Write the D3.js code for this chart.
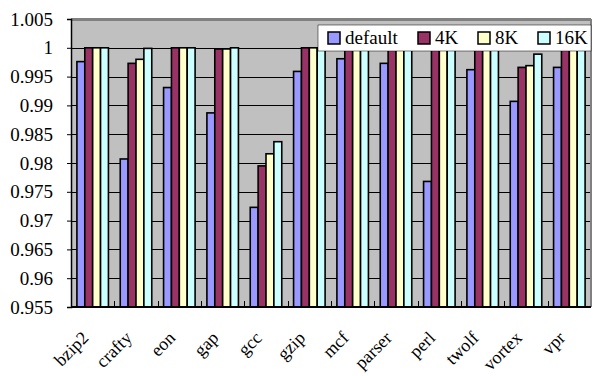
<!DOCTYPE html>
<html>
<head>
<meta charset="utf-8">
<script src="https://cdn.jsdelivr.net/npm/d3@7"></script>
<style>
  body { margin: 0; background: #fff; }
</style>
</head>
<body>
<div id="chart"></div>
<script>
// benchmarks along the x axis
const benchmarks = ["bzip2", "crafty", "eon", "gap", "gcc", "gzip", "mcf", "parser", "perl", "twolf", "vortex", "vpr"];
const seriesNames = ["default", "4K", "8K", "16K"];

// values
const defaultVals = [0.9976, 0.9807, 0.9931, 0.9887, 0.9723, 0.9959, 0.9981, 0.9973, 0.9768, 0.9962, 0.9907, 0.9966];
const k4Vals      = [1.0, 0.9973, 1.0, 0.9998, 0.9795, 1.0, 1.0, 1.0, 1.0, 1.0, 0.9966, 1.0];
const k8Vals      = [1.0, 0.9980, 1.0, 0.9998, 0.9816, 1.0, 1.0, 1.0, 1.0, 1.0, 0.9969, 1.0];
const k16Vals     = [1.0, 0.9999, 1.0, 1.0, 0.9837, 1.0, 1.0, 1.0, 1.0, 1.0, 0.9989, 1.0];

const yTicks = [0.955, 0.96, 0.965, 0.97, 0.975, 0.98, 0.985, 0.99, 0.995, 1, 1.005];

const colors = ["#9999ff", "#993366", "#ffffcc", "#ccffff"];
const FONT = "Liberation Serif";

const allSeries = [defaultVals, k4Vals, k8Vals, k16Vals];
const data = benchmarks.map((b, i) => ({
    name: b,
    values: seriesNames.map((s, j) => ({ key: s, value: allSeries[j][i] }))
}));

const W = 594, H = 376;
const margin = {top: 19, right: 3, bottom: 69, left: 71};
const width = W - margin.left - margin.right;
const height = H - margin.top - margin.bottom;

const svg = d3.select("#chart").append("svg")
    .attr("width", W)
    .attr("height", H);

const g = svg.append("g")
    .attr("transform", "translate(" + margin.left + "," + margin.top + ")");

// scales
const x0 = d3.scaleBand()
    .domain(benchmarks)
    .range([0, width]);

// excel style gap width 150%: group = 4 bars + 1.5 bar
const barW = x0.bandwidth() / 5.5;
const x1 = d3.scaleBand()
    .domain(seriesNames)
    .range([barW * 0.75, barW * 4.75]);

const y = d3.scaleLinear()
    .domain([0.955, 1.005])
    .range([height, 0]);

// plot background
g.append("rect")
    .attr("width", width)
    .attr("height", height)
    .attr("fill", "#c0c0c0");

// gridlines
g.selectAll(".grid")
    .data(yTicks)
    .enter().append("line")
    .attr("class", "grid")
    .attr("x1", 0)
    .attr("x2", width)
    .attr("y1", d => Math.round(y(d)) + 0.5)
    .attr("y2", d => Math.round(y(d)) + 0.5)
    .attr("stroke", "#000")
    .attr("stroke-width", 1);

// top & right border of plot area
g.append("line")
    .attr("x1", 0).attr("x2", width)
    .attr("y1", 0.5).attr("y2", 0.5)
    .attr("stroke", "#808080").attr("stroke-width", 3);
g.append("line")
    .attr("x1", width).attr("x2", width)
    .attr("y1", 0).attr("y2", height)
    .attr("stroke", "#808080").attr("stroke-width", 2);

// bars
const groups = g.selectAll(".group")
    .data(data)
    .enter().append("g")
    .attr("class", "group")
    .attr("transform", d => "translate(" + x0(d.name) + ",0)");

groups.selectAll("rect")
    .data(d => d.values)
    .enter().append("rect")
    .attr("x", d => x1(d.key))
    .attr("width", x1.bandwidth())
    .attr("y", d => y(d.value))
    .attr("height", d => height - y(d.value))
    .attr("fill", (d, i) => colors[i])
    .attr("stroke", "#000")
    .attr("stroke-width", 1.6);

// y axis
const yAxis = d3.axisLeft(y)
    .tickValues(yTicks)
    .tickSize(4)
    .tickPadding(14)
    .tickFormat(d => String(+d.toFixed(3)));

const ya = g.append("g").attr("class", "y-axis").call(yAxis);
ya.select(".domain").attr("stroke", "#000").attr("stroke-width", 1.5);
ya.selectAll("text")
    .attr("font-size", "19px")
    .attr("font-family", FONT)
    .attr("fill", "#000");

// x axis with ticks between categories, pointing into the plot
const xa = g.append("g")
    .attr("transform", "translate(0," + height + ")");
xa.append("line")
    .attr("x1", 0).attr("x2", width)
    .attr("stroke", "#000").attr("stroke-width", 2);
xa.selectAll(".tick")
    .data(benchmarks.slice(1))
    .enter().append("line")
    .attr("x1", d => Math.round(x0(d)) + 0.5)
    .attr("x2", d => Math.round(x0(d)) + 0.5)
    .attr("y1", 0).attr("y2", -6)
    .attr("stroke", "#000");

xa.selectAll(".xlabel")
    .data(benchmarks)
    .enter().append("text")
    .attr("class", "xlabel")
    .attr("text-anchor", "end")
    .attr("font-size", "18px")
    .attr("font-family", FONT)
    .attr("transform", d => "translate(" + (x0(d) + x0.bandwidth() / 2 - 3) + ",32) rotate(-45)")
    .text(d => d);

// legend
const legend = svg.append("g")
    .attr("transform", "translate(318,25)");
legend.append("rect")
    .attr("width", 273)
    .attr("height", 26)
    .attr("fill", "#fff")
    .attr("stroke", "#000")
    .attr("stroke-width", 0.5);

const legendX = [10, 100, 160, 220];
const items = legend.selectAll(".item")
    .data(seriesNames)
    .enter().append("g")
    .attr("transform", (d, i) => "translate(" + legendX[i] + ",0)");
items.append("rect")
    .attr("x", 0).attr("y", 7)
    .attr("width", 12).attr("height", 12)
    .attr("fill", (d, i) => colors[i])
    .attr("stroke", "#000")
    .attr("stroke-width", 1.5);
items.append("text")
    .attr("x", 17)
    .attr("y", 19)
    .attr("font-size", "19px")
    .attr("font-family", FONT)
    .text(d => d);
</script>
</body>
</html>
